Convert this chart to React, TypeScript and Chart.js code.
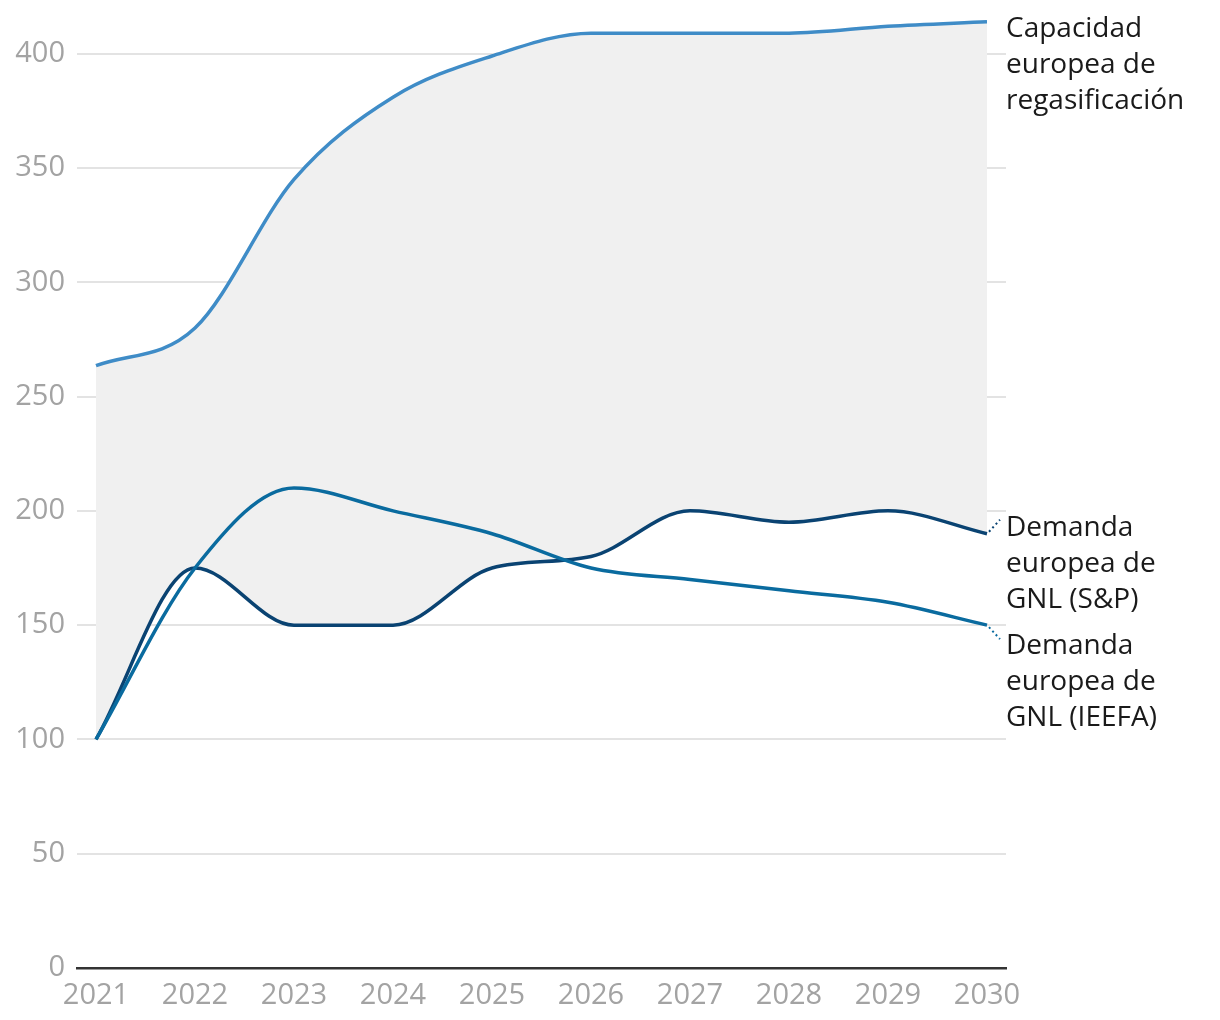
import React, { useEffect, useRef } from "react";
import { Chart, registerables } from "chart.js";

Chart.register(...registerables);

const YEARS = [2021, 2022, 2023, 2024, 2025, 2026, 2027, 2028, 2029, 2030];
const CAPACITY = [263.5, 280, 345, 381, 399, 409, 409, 409, 412, 414];
const DEMAND_SP = [100, 175, 150, 150, 175, 180, 200, 195, 200, 190];
const DEMAND_IEEFA = [100, 175, 210, 200, 190, 175, 170, 165, 160, 150];
const Y_TICKS = [0, 50, 100, 150, 200, 250, 300, 350, 400];

const LABEL_CAPACITY = ["Capacidad", "europea de", "regasificación"];
const LABEL_SP = ["Demanda", "europea de", "GNL (S&P)"];
const LABEL_IEEFA = ["Demanda", "europea de", "GNL (IEEFA)"];

const COLOR_CAPACITY = "#3f8cc7";
const COLOR_SP = "#0a4372";
const COLOR_IEEFA = "#0a6b9f";
const FONT = "'Open Sans', 'Liberation Sans', sans-serif";

const toPoints = (vals: number[]) => YEARS.map((x, i) => ({ x, y: vals[i] }));

const endLabels = {
  id: "endLabels",
  afterDraw(chart: any) {
    const ctx = chart.ctx;
    const area = chart.chartArea;
    const specs = [
      { idx: 0, lines: LABEL_CAPACITY, dy: 15, conn: 0, color: COLOR_CAPACITY },
      { idx: 2, lines: LABEL_SP, dy: 2, conn: -1, color: COLOR_SP },
      { idx: 1, lines: LABEL_IEEFA, dy: 29, conn: 1, color: COLOR_IEEFA },
    ];
    ctx.save();
    for (const s of specs) {
      const meta = chart.getDatasetMeta(s.idx);
      const pt = meta.data[meta.data.length - 1];
      if (!pt) continue;
      if (s.conn !== 0) {
        ctx.save();
        ctx.strokeStyle = s.color;
        ctx.lineWidth = 2;
        ctx.setLineDash([2, 3]);
        ctx.beginPath();
        ctx.moveTo(pt.x + 2, pt.y + s.conn * 2);
        ctx.lineTo(pt.x + 13, pt.y + s.conn * 14);
        ctx.stroke();
        ctx.restore();
      }
      ctx.fillStyle = "#1a1a1a";
      ctx.font = `28px ${FONT}`;
      ctx.textAlign = "left";
      ctx.textBaseline = "alphabetic";
      s.lines.forEach((t, i) => {
        ctx.fillText(t, area.right + 0, pt.y + s.dy + i * 36);
      });
    }
    ctx.restore();
  },
};

export default function App() {
  const ref = useRef<HTMLCanvasElement | null>(null);
  useEffect(() => {
    if (!ref.current) return;
    const chart = new Chart(ref.current, {
      type: "line",
      data: {
        datasets: [
          {
            label: "Capacidad europea de regasificación",
            data: toPoints(CAPACITY),
            borderColor: COLOR_CAPACITY,
            backgroundColor: "#f0f0f0",
            borderWidth: 3.5,
            pointRadius: 0,
            cubicInterpolationMode: "monotone",
            fill: { target: 2 },
          },
          {
            label: "Demanda europea de GNL (IEEFA)",
            data: toPoints(DEMAND_IEEFA),
            borderColor: COLOR_IEEFA,
            borderWidth: 3.5,
            pointRadius: 0,
            cubicInterpolationMode: "monotone",
            fill: false,
          },
          {
            label: "Demanda europea de GNL (S&P)",
            data: toPoints(DEMAND_SP),
            borderColor: COLOR_SP,
            borderWidth: 3.5,
            pointRadius: 0,
            cubicInterpolationMode: "monotone",
            fill: false,
          },
        ],
      },
      options: {
        animation: false,
        responsive: false,
        devicePixelRatio: 1,
        layout: { padding: { top: 0, right: 206, left: 0, bottom: 0 } },
        plugins: {
          legend: { display: false },
          tooltip: { enabled: false },
          filler: { drawTime: "beforeDatasetsDraw" },
        },
        scales: {
          x: {
            type: "linear",
            min: 2021 - 19 / 99,
            max: 2030 + 19 / 99,
            grid: { display: false, drawTicks: false },
            border: { display: true, color: "#333333", width: 2.5 },
            afterBuildTicks: (scale: any) => {
              scale.ticks = YEARS.map((v) => ({ value: v }));
            },
            afterFit: (scale: any) => {
              scale.height = 44;
              scale.paddingLeft = 0;
              scale.paddingRight = 0;
            },
            ticks: {
              color: "#a3a3a3",
              font: { family: FONT, size: 29 },
              padding: 10,
              maxRotation: 0,
              autoSkip: false,
              callback: (v: any) => String(v),
            },
          },
          y: {
            min: 0,
            max: 420,
            grid: { color: "#e3e3e3", lineWidth: 2, drawTicks: false },
            border: { display: false },
            afterBuildTicks: (scale: any) => {
              scale.ticks = Y_TICKS.map((v) => ({ value: v }));
            },
            afterFit: (scale: any) => {
              scale.width = 69;
              scale.paddingTop = 0;
              scale.paddingBottom = 0;
            },
            ticks: {
              color: "#a3a3a3",
              font: { family: FONT, size: 29 },
              padding: 12,
              callback: (v: any) => String(v),
            },
          },
        },
      },
      plugins: [endLabels],
    } as any);
    return () => chart.destroy();
  }, []);
  return (
    <canvas
      ref={ref}
      width={1204}
      height={1004}
      style={{ display: "block", width: 1204, height: 1004 }}
    />
  );
}
